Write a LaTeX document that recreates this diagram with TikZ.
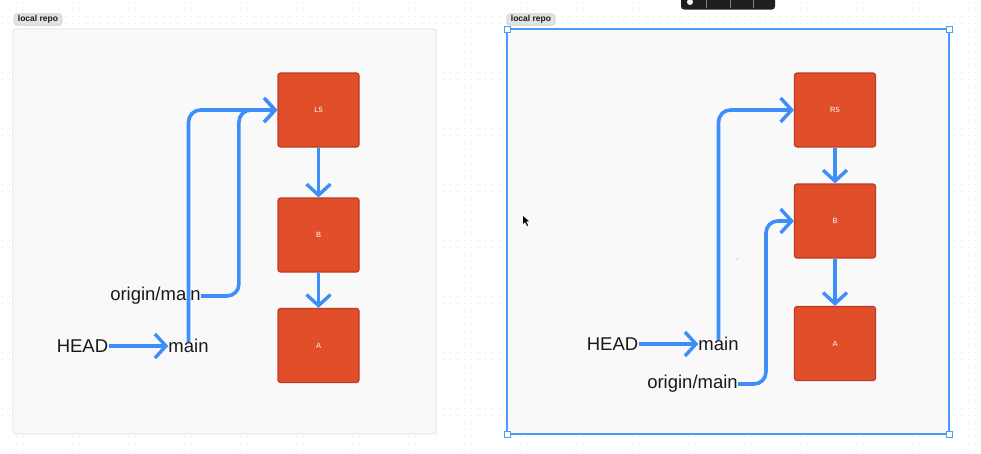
\documentclass[tikz,border=0pt]{standalone}
\usepackage{fontspec}
\setmainfont{Liberation Sans}
\usetikzlibrary{arrows.meta,patterns.meta}
\definecolor{frameFill}{HTML}{F9F9FA}
\definecolor{frameLine}{HTML}{E2E2E4}
\definecolor{boxFill}{HTML}{E04F2A}
\definecolor{boxLine}{HTML}{BE3B22}
\definecolor{arrBlue}{HTML}{3D8EF8}
\definecolor{selBlue}{HTML}{4B9BF5}
\definecolor{pillFill}{HTML}{E2E2E4}
\definecolor{pillLine}{HTML}{CDCDD0}
\definecolor{gridDot}{HTML}{D6D6D9}
\tikzdeclarepattern{
  name=griddots, type=uncolored,
  bounding box={(0pt,0pt) and (7.3pt,7.3pt)},
  tile size={(7.3pt,7.3pt)},
  code={\fill (3.65pt,3.65pt) circle (0.5pt);}
}
\tikzset{
  commit/.style={draw=boxLine, fill=boxFill, line width=1.2pt, rounded corners=2.5pt,
    minimum width=81pt, minimum height=74pt, inner sep=0pt,
    text=white, font=\fontsize{7.5}{8}\selectfont},
  lbl/.style={inner sep=1pt, font=\fontsize{18.5}{20}\selectfont, text=black!90},
  arr/.style={draw=arrBlue, line width=3.6pt, rounded corners=12pt,
    -{Straight Barb[length=11pt, width=24pt, line width=3.4pt]}},
  pill/.style={draw=pillLine, fill=pillFill, rounded corners=3pt, line width=0.6pt,
    minimum width=48pt, minimum height=11.5pt, inner sep=0pt,
    font=\bfseries\fontsize{8.5}{9}\selectfont, text=black!90},
  handle/.style={draw=selBlue, fill=white, line width=0.9pt, minimum size=6pt, inner sep=0pt}
}
\begin{document}
\begin{tikzpicture}[x=1pt, y=-1pt]
\useasboundingbox (0,0) rectangle (981,453);
\fill[white] (0,0) rectangle (981,453);
% dotted canvas grid
\fill[pattern=griddots, pattern color=gridDot] (0,0) rectangle (981,453);
% toolbar stub
\fill[black!88, rounded corners=3pt] (681,-5) rectangle (775,9.5);
\fill[white] (690,2) circle (3pt);
\draw[gray, line width=0.5pt] (706,0) -- (706,8) (730,0) -- (730,8) (753,0) -- (753,8);

% ---------- left frame ----------
\draw[frameLine, fill=frameFill, line width=0.8pt, rounded corners=3pt] (13,29) rectangle (436,434);
\node[pill] (pl) at (38,19.5) {local repo};

\node[commit] (L5) at (318.5,110) {L5};
\node[commit] (LB) at (318.5,235) {B};
\node[commit] (LA) at (318.5,345.5) {A};

\node[lbl] (headL) at (82.5,346) {HEAD};
\node[lbl, inner sep=0pt] (mainL) at (188.5,346) {main};
\node[lbl, inner sep=0pt] (origL) at (155.5,296) {origin/main};

\draw[arr] (L5) -- (LB);
\draw[arr] (LB) -- (LA);
\draw[arr] (headL.east) -- (mainL.west);
\draw[arr] ([yshift=-3pt]mainL.north) |- (L5.west);
\draw[arr] (origL.east) -- ++(38,0) |- (L5.west);

% ---------- right frame ----------
\draw[selBlue, fill=frameFill, line width=1.3pt] (507,29) rectangle (949,434);
\node[pill] (pr) at (531,19.5) {local repo};
\node[handle] (h1) at (507,29) {};
\node[handle] (h2) at (949,29) {};
\node[handle] (h3) at (507,434) {};
\node[handle] (h4) at (949,434) {};

\node[commit] (R5) at (835,110) {R5};
\node[commit] (RB) at (835,221) {B};
\node[commit] (RA) at (835,343.5) {A};

\node[lbl] (headR) at (612.5,344) {HEAD};
\node[lbl, inner sep=0pt] (mainR) at (718.5,344) {main};
\node[lbl, inner sep=0pt] (origR) at (692.5,384) {origin/main};

\draw[arr] (R5) -- (RB);
\draw[arr] (RB) -- (RA);
\draw[arr] (headR.east) -- (mainR.west);
\draw[arr] ([yshift=-3pt]mainR.north) |- (R5.west);
\draw[arr] (origR.east) -- ++(28,0) |- (RB.west);

% cursor and stray dot
\fill[black] (523,216) -- (523,224) -- (525,222) -- (527,226) -- (528,225.5) -- (526.3,221.5) -- (529,221.3) -- cycle;
\fill[black!70] (737,259) circle (0.5pt);
\end{tikzpicture}
\end{document}
